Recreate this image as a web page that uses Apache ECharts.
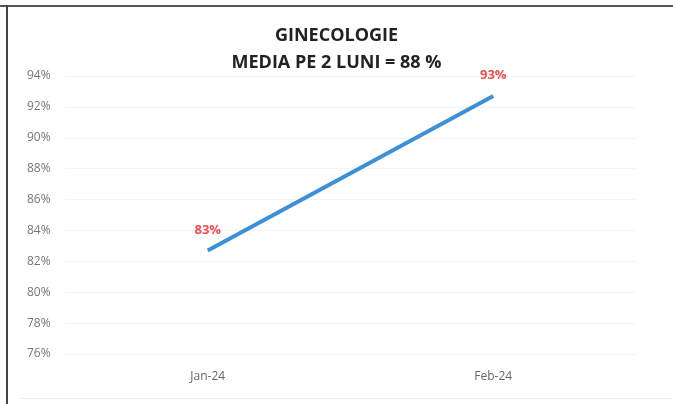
<!DOCTYPE html>
<html>
<head>
<meta charset="utf-8">
<script src="https://cdn.jsdelivr.net/npm/echarts@6/dist/echarts.min.js"></script>
<style>
  html, body { margin: 0; padding: 0; background: #fff; }
  #chart { width: 673px; height: 404px; }
</style>
</head>
<body>
<div id="chart"></div>
<script>
// date din grafic
const months = ['Jan-24', 'Feb-24'];
const procente = [82.7, 92.7];
const etichete = ['83%', '93%'];

const myChart = echarts.init(document.getElementById('chart'));

const option = {
    backgroundColor: '#fff',
    animation: false,
    title: {
        text: 'GINECOLOGIE\nMEDIA PE 2 LUNI = 88 %',
        left: 'center',
        top: 17,
        textStyle: {
            fontFamily: 'Open Sans',
            fontSize: 18,
            fontWeight: 'bold',
            color: '#222',
            lineHeight: 27
        }
    },
    grid: {
        left: 65,
        right: 37,
        top: 76,
        bottom: 50
    },
    xAxis: {
        type: 'category',
        data: months,
        boundaryGap: true,
        axisLine: { show: false },
        axisTick: { show: false },
        axisLabel: {
            color: '#666',
            fontFamily: 'Open Sans',
            fontSize: 12,
            margin: 17
        }
    },
    yAxis: {
        type: 'value',
        min: 76,
        max: 94,
        interval: 2,
        axisLine: { show: false },
        axisTick: { show: false },
        axisLabel: {
            color: '#777',
            fontFamily: 'Open Sans',
            fontSize: 12,
            align: 'left',
            margin: 38,
            formatter: (v) => v + '%'
        },
        splitLine: { lineStyle: { color: '#f3f3f3', width: 1 } }
    },
    series: [
        {
            type: 'line',
            data: procente,
            symbol: 'circle',
            symbolSize: 2,
            showSymbol: true,
            itemStyle: { color: 'rgba(0,0,0,0)', borderWidth: 0 },
            lineStyle: { color: '#3d8fd6', width: 4 },
            label: {
                show: true,
                position: 'top',
                distance: 13,
                color: '#f44d4d',
                fontFamily: 'Open Sans',
                fontWeight: 'bold',
                fontSize: 13,
                formatter: (p) => etichete[p.dataIndex]
            }
        }
    ],
    graphic: [
        { type: 'rect', shape: { x: 0, y: 5, width: 673, height: 2 }, style: { fill: '#555' } },
        { type: 'rect', shape: { x: 6, y: 5, width: 2, height: 399 }, style: { fill: '#444' } },
        { type: 'rect', shape: { x: 20, y: 398, width: 653, height: 1 }, style: { fill: '#eee' } }
    ]
};

myChart.setOption(option);
</script>
</body>
</html>
